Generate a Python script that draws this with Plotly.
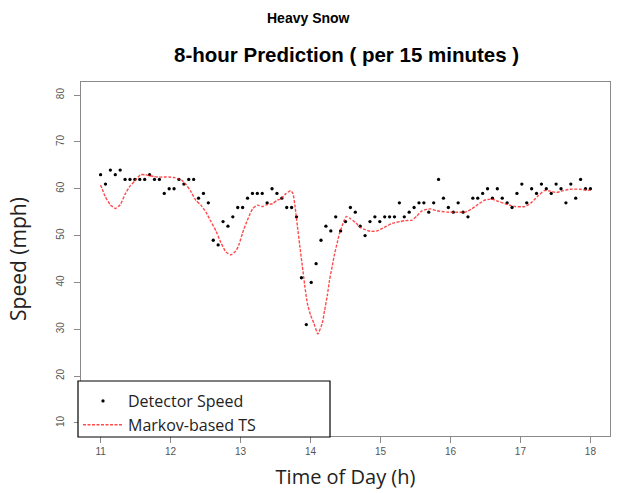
import plotly.graph_objects as go

# ---------------- data ----------------
# detector speed (mph), 101 samples evenly spaced from 11:00 to 18:00
detector_speed = [63, 61, 64, 63, 64, 62, 62, 62, 62, 62, 63, 62, 62, 59, 60, 60, 62, 61, 62, 62,
                  58, 59, 57, 49, 48, 53, 52, 54, 56, 56, 58, 59, 59, 59, 57, 60, 59, 58, 56, 56,
                  54, 41, 31, 40, 44, 49, 52, 51, 54, 51, 53, 56, 55, 52, 50, 53, 54, 53, 54, 54,
                  54, 57, 54, 55, 56, 57, 57, 55, 57, 62, 58, 56, 55, 57, 55, 54, 58, 58, 59, 60,
                  58, 60, 58, 57, 56, 59, 61, 57, 60, 59, 61, 60, 59, 61, 60, 57, 61, 58, 62, 60, 60]
n_obs = len(detector_speed)
detector_time = [11 + 7 * i / (n_obs - 1) for i in range(n_obs)]

# Markov-based TS prediction
ts_time = [11.000, 11.067, 11.138, 11.214, 11.281, 11.352, 11.423, 11.490, 11.570, 11.632,
           11.704, 11.765, 11.840, 11.907, 11.979, 12.050, 12.117, 12.164, 12.221, 12.282,
           12.363, 12.434, 12.506, 12.577, 12.648, 12.719, 12.791, 12.862, 12.933, 12.976,
           13.028, 13.076, 13.123, 13.175, 13.242, 13.313, 13.375, 13.456, 13.527, 13.574,
           13.645, 13.716, 13.749, 13.781, 13.812, 13.845, 13.883, 13.916, 13.954, 14.001,
           14.048, 14.105, 14.168, 14.201, 14.239, 14.272, 14.311, 14.343, 14.382, 14.415,
           14.453, 14.486, 14.514, 14.571, 14.642, 14.714, 14.761, 14.856, 14.952, 15.046,
           15.165, 15.284, 15.355, 15.450, 15.521, 15.593, 15.711, 15.806, 15.949, 16.067,
           16.210, 16.305, 16.399, 16.494, 16.590, 16.684, 16.803, 16.922, 17.064, 17.160,
           17.254, 17.339, 17.421, 17.516, 17.610, 17.705, 17.848, 17.943, 18.000]
ts_speed = [60.8, 58.3, 56.6, 55.8, 56.6, 58.9, 60.6, 61.7, 63.0, 63.0,
            62.8, 62.6, 62.5, 62.5, 62.5, 62.4, 62.1, 61.8, 60.9, 59.6,
            57.5, 56.5, 55.0, 53.0, 51.0, 48.5, 46.5, 45.9, 46.7, 48.0,
            50.5, 52.5, 54.2, 55.8, 56.5, 56.2, 56.6, 56.8, 57.6, 57.8,
            58.9, 59.6, 59.0, 56.0, 52.1, 48.0, 43.5, 39.5, 35.6, 33.0,
            31.3, 29.0, 31.3, 34.0, 37.1, 40.5, 43.5, 46.0, 48.5, 50.5,
            52.1, 53.5, 54.1, 53.6, 52.8, 51.7, 51.4, 50.9, 51.0, 51.7,
            52.6, 53.0, 53.2, 53.3, 54.2, 55.3, 55.7, 55.3, 55.0, 55.0,
            55.0, 55.7, 56.7, 57.6, 57.8, 57.3, 56.7, 56.2, 56.2, 57.1,
            58.5, 59.6, 59.5, 59.2, 59.6, 59.9, 59.9, 59.7, 59.7]

x_ticks = [11, 12, 13, 14, 15, 16, 17, 18]
y_ticks = [10, 20, 30, 40, 50, 60, 70, 80]

# ---------------- figure ----------------
W, H = 618, 493
ML, MR, MT, MB = 81, 8, 82, 57
PW, PH = W - ML - MR, H - MT - MB

fig = go.Figure()
fig.add_trace(go.Scatter(
    x=detector_time, y=detector_speed, mode="markers", name="Detector Speed",
    marker=dict(color="black", size=3.3, line=dict(width=0)),
))
fig.add_trace(go.Scatter(
    x=ts_time, y=ts_speed, mode="lines", name="Markov-based TS",
    line=dict(color="rgba(255,30,30,0.8)", width=1.4, dash="3px,1.5px", shape="spline", smoothing=0.5),
))

axis_common = dict(
    showgrid=False, zeroline=False, showline=True, mirror=True,
    linecolor="#8a8a8a", linewidth=1,
    ticks="outside", ticklen=6, tickcolor="#8a8a8a", tickwidth=1,
    tickfont=dict(family="Liberation Sans, Arial, sans-serif", size=10, color="#555555"),
)

fig.update_layout(
    width=W, height=H,
    margin=dict(l=ML, r=MR, t=MT, b=MB, pad=0),
    paper_bgcolor="white", plot_bgcolor="white",
    showlegend=True,
    legend=dict(
        x=(78 - ML) / PW, y=(H - MB - 384) / PH, xanchor="left", yanchor="top",
        bgcolor="rgba(0,0,0,0)", borderwidth=0,
        font=dict(family="Open Sans, sans-serif", size=16, color="#222222"),
        tracegroupgap=0, itemwidth=40,
    ),
    xaxis=dict(
        range=[10.72, 18.28], tickvals=x_ticks, ticktext=[str(v) for v in x_ticks],
        title=dict(text="Time of Day (h)", standoff=13,
                   font=dict(family="Open Sans, sans-serif", size=20, color="#222222")),
        **axis_common,
    ),
    yaxis=dict(
        range=[7.2, 82.8], tickvals=y_ticks, ticktext=[str(v) for v in y_ticks],
        tickangle=-90, ticklabelstandoff=6,
        title=dict(text="Speed (mph)", standoff=22,
                   font=dict(family="Open Sans, sans-serif", size=21, color="#222222")),
        **axis_common,
    ),
    shapes=[dict(
        type="rect", xref="paper", yref="paper", layer="above",
        x0=(78 - ML) / PW, x1=(330 - ML) / PW,
        y0=(H - MB - 437) / PH, y1=(H - MB - 381) / PH,
        line=dict(color="black", width=1.2), fillcolor="white",
    )],
    annotations=[
        dict(text="<b>Heavy Snow</b>", xref="paper", yref="paper",
             x=(308 - ML) / PW, y=(H - MB - 18) / PH, xanchor="center", yanchor="middle",
             showarrow=False, font=dict(family="Liberation Sans, Arial, sans-serif", size=14, color="black")),
        dict(text="<b>8-hour Prediction ( per 15 minutes )</b>", xref="paper", yref="paper",
             x=(346 - ML) / PW, y=(H - MB - 55) / PH, xanchor="center", yanchor="middle",
             showarrow=False, font=dict(family="Liberation Sans, Arial, sans-serif", size=20.5, color="black")),
    ],
)

fig.write_html("out.html")
